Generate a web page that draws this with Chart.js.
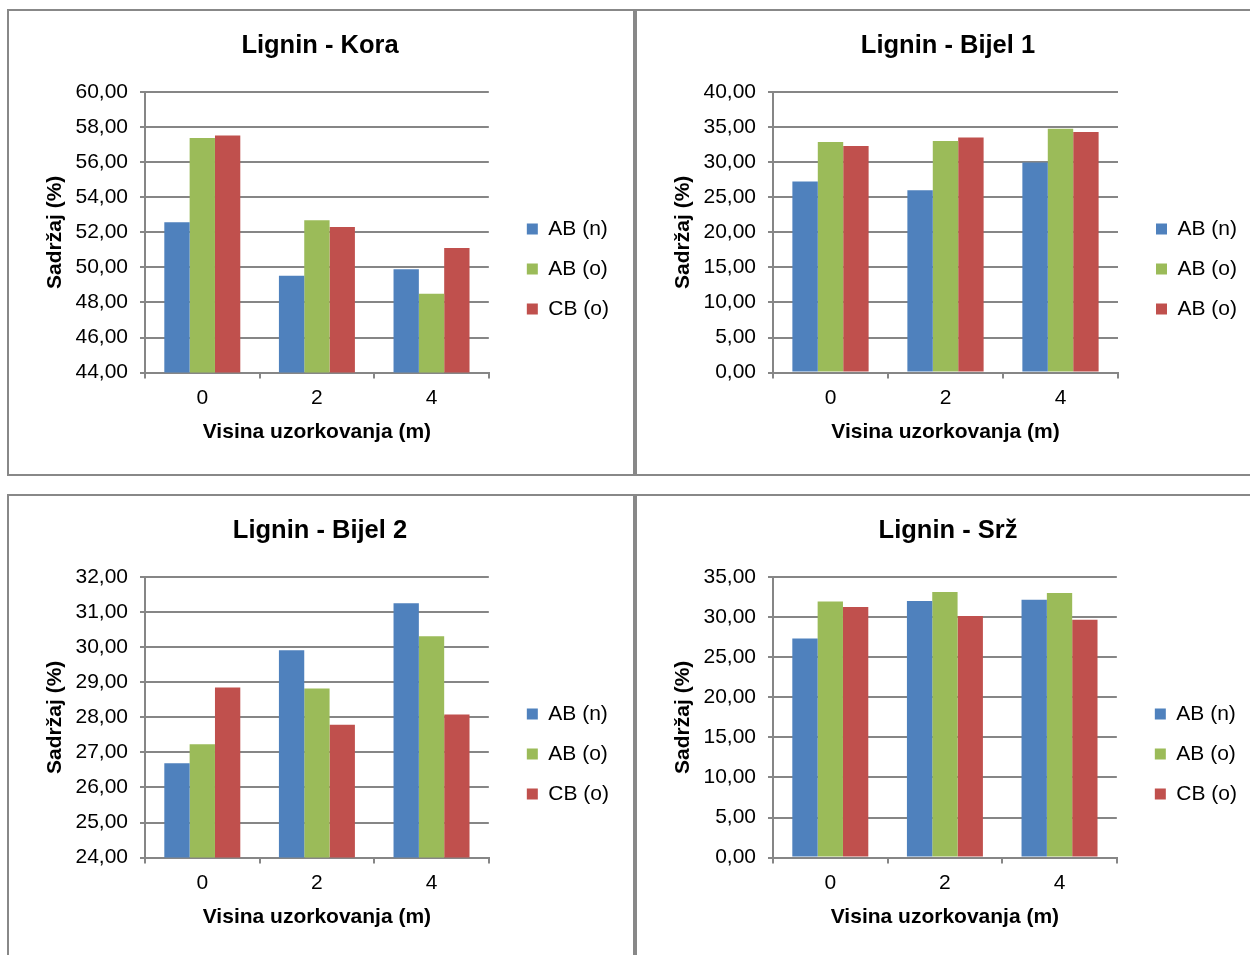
<!DOCTYPE html>
<html>
<head>
<meta charset="utf-8">
<title>Lignin</title>
<script src="https://cdn.jsdelivr.net/npm/chart.js@4.4.1/dist/chart.umd.min.js"></script>
<style>
  html, body { margin: 0; padding: 0; background: #fff; overflow: hidden; width: 1250px; height: 955px; }
  .panel { position: absolute; width: 628px; height: 467px; border: 2px solid #888; box-sizing: border-box; background: #fff; }
  .panel canvas { display: block; }
</style>
</head>
<body>
<div class="panel" style="left:7px;top:9px"><canvas id="kora" width="624" height="463"></canvas></div>
<div class="panel" style="left:635px;top:9px"><canvas id="bijel1" width="624" height="463"></canvas></div>
<div class="panel" style="left:7px;top:494px"><canvas id="bijel2" width="624" height="463"></canvas></div>
<div class="panel" style="left:635px;top:494px"><canvas id="srz" width="624" height="463"></canvas></div>
<script>
// visina uzorkovanja (m)
const heights = ['0', '2', '4'];

// Lignin - Kora
const koraLabels = ['AB (n)', 'AB (o)', 'CB (o)'];
const koraABn = [52.57, 49.52, 49.90];
const koraABo = [57.37, 52.69, 48.49];
const koraCBo = [57.52, 52.30, 51.10];

// Lignin - Bijel 1
const bijel1Labels = ['AB (n)', 'AB (o)', 'AB (o)'];
const bijel1ABn = [27.23, 26.00, 29.94];
const bijel1ABo = [32.86, 33.00, 34.76];
const bijel1CBo = [32.29, 33.51, 34.29];

// Lignin - Bijel 2
const bijel2Labels = ['AB (n)', 'AB (o)', 'CB (o)'];
const bijel2ABn = [26.69, 29.91, 31.25];
const bijel2ABo = [27.23, 28.82, 30.31];
const bijel2CBo = [28.85, 27.79, 28.08];

// Lignin - Srž
const srzLabels = ['AB (n)', 'AB (o)', 'CB (o)'];
const srzABn = [27.32, 32.00, 32.17];
const srzABo = [31.95, 33.13, 33.00];
const srzCBo = [31.25, 30.12, 29.66];

const COLORS = ['#4F81BD', '#9BBB59', '#C0504D'];
const GRID = '#868686';

Chart.defaults.font.family = "'Liberation Sans', Arial, sans-serif";
Chart.defaults.color = '#000';

function fmt(v) {
  return v.toFixed(2).replace('.', ',');
}

function drawPanel(id, title, labels, series, yMin, yMax, step) {
  new Chart(document.getElementById(id), {
    type: 'bar',
    data: {
      labels: heights,
      datasets: series.map((d, i) => ({
        label: labels[i],
        data: d,
        backgroundColor: COLORS[i],
        borderWidth: 0,
        categoryPercentage: 0.663,
        barPercentage: 1
      }))
    },
    options: {
      responsive: false,
      animation: false,
      devicePixelRatio: 1,
      layout: { padding: { left: 12, right: 14, top: 0, bottom: 21 } },
      plugins: {
        title: {
          display: true,
          text: title,
          color: '#000',
          font: { size: 25.5, weight: 'bold' },
          padding: { top: 19.7, bottom: 30.7 }
        },
        legend: {
          position: 'right',
          maxWidth: 160,
          // empty title pushes the items down below the middle of the plot
          title: { display: true, text: '', font: { size: 10 }, padding: { top: 62, bottom: 0 } },
          labels: {
            boxWidth: 11,
            boxHeight: 11,
            padding: 19,
            color: '#000',
            font: { size: 21 }
          }
        },
        tooltip: { enabled: false }
      },
      scales: {
        x: {
          grid: { drawOnChartArea: false, drawTicks: true, tickLength: 6, offset: true, color: GRID, lineWidth: 2 },
          border: { color: GRID, width: 2 },
          ticks: { color: '#000', font: { size: 21 }, padding: 7 },
          title: {
            display: true,
            text: 'Visina uzorkovanja (m)',
            color: '#000',
            font: { size: 21, weight: 'bold' },
            padding: { top: 2, bottom: 8 }
          }
        },
        y: {
          min: yMin,
          max: yMax,
          ticks: { stepSize: step, callback: fmt, color: '#000', font: { size: 21 }, padding: 12 },
          grid: { color: GRID, lineWidth: 2, tickLength: 5 },
          border: { color: GRID, width: 2 },
          title: {
            display: true,
            text: 'Sadržaj (%)',
            color: '#000',
            font: { size: 21, weight: 'bold' },
            padding: { top: 22, bottom: 0 }
          },
          afterFit: s => { s.width = 124; }
        },
        // empty axis that keeps the legend away from the plot
        gap: {
          position: 'right',
          grid: { display: false },
          border: { display: false },
          ticks: { display: false },
          afterFit: s => { s.width = 19; }
        }
      }
    }
  });
}

drawPanel('kora', 'Lignin - Kora', koraLabels, [koraABn, koraABo, koraCBo], 44, 60, 2);
drawPanel('bijel1', 'Lignin - Bijel 1', bijel1Labels, [bijel1ABn, bijel1ABo, bijel1CBo], 0, 40, 5);
drawPanel('bijel2', 'Lignin - Bijel 2', bijel2Labels, [bijel2ABn, bijel2ABo, bijel2CBo], 24, 32, 1);
drawPanel('srz', 'Lignin - Srž', srzLabels, [srzABn, srzABo, srzCBo], 0, 35, 5);
</script>
</body>
</html>
